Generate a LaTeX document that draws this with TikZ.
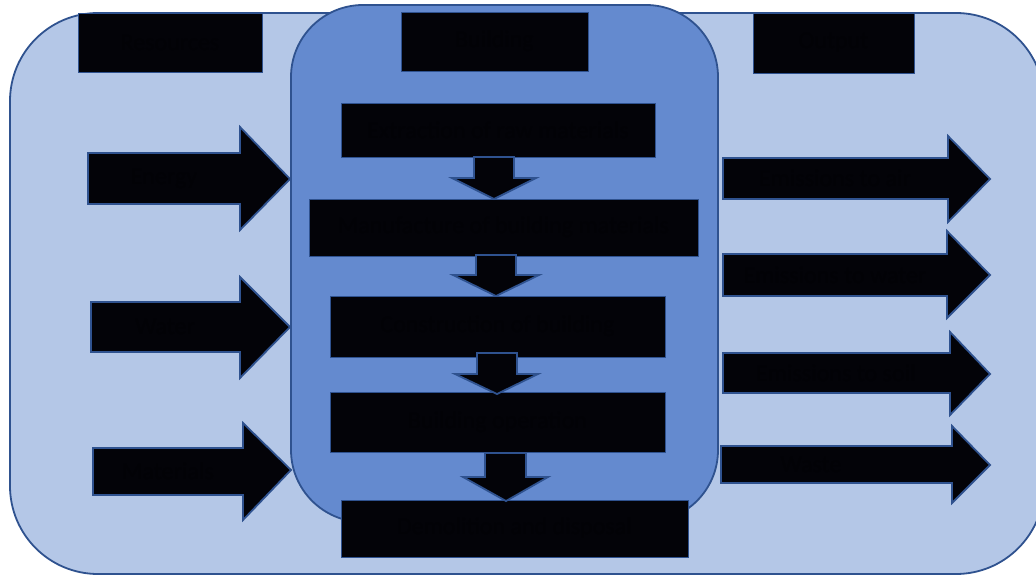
\documentclass[tikz,border=0pt]{standalone}
\usepackage{fontspec}
\setmainfont{Carlito}
\definecolor{outerfill}{RGB}{180,199,231}
\definecolor{innerfill}{RGB}{100,138,207}
\definecolor{edge}{RGB}{47,82,143}
\definecolor{boxfill}{RGB}{3,3,8}
\definecolor{boxtext}{RGB}{2,2,6}
\tikzset{
  panel/.style={draw=edge, line width=1.8pt},
  blackbox/.style={fill=boxfill, draw=edge, line width=0.8pt},
  blockarrow/.style={fill=boxfill, draw=edge, line width=1.8pt, line join=miter},
  lbl/.style={text=boxtext, inner sep=0pt, font=\fontsize{24}{28}\selectfont},
}
\begin{document}
\begin{tikzpicture}[x=1pt, y=-1pt]
\useasboundingbox (0,0) rectangle (1036,575);
% outer panel
\draw[panel, fill=outerfill, rounded corners=88pt] (10,13) rectangle (1044,574);
% inner panel
\draw[panel, fill=innerfill, rounded corners=72pt] (291,5) rectangle (718,522);

% titles
\draw[blackbox] (78,13) rectangle (262,72);
\node[lbl] (tres) at (170,42.5) {Resources};
\draw[blackbox] (401,12) rectangle (588,71);
\node[lbl] (tbld) at (494.5,41.5) {Building};
\draw[blackbox] (753,13) rectangle (914,73);
\node[lbl] (tout) at (833.5,43) {Output};

% input arrows
\draw[blockarrow] (88,153) -- (240,153) -- (240,127) -- (290,179) -- (240,230) -- (240,204) -- (88,204) -- cycle;
\node[lbl] (in1) at (164,178.5) {Energy};
\draw[blockarrow] (91,302) -- (240,302) -- (240,277) -- (290,327) -- (240,378) -- (240,352) -- (91,352) -- cycle;
\node[lbl] (in2) at (165,327) {Water};
\draw[blockarrow] (93,448) -- (243,448) -- (243,423) -- (291,470) -- (243,520) -- (243,495) -- (93,495) -- cycle;
\node[lbl] (in3) at (168,471.5) {Materials};

% process boxes
\draw[blackbox] (341,103) rectangle (655,157);
\node[lbl] (p1) at (498,130) {Extraction of raw materials};
\draw[blackbox] (309,199) rectangle (698,256);
\node[lbl] (p2) at (503.5,227.5) {Manufacture of building materials};
\draw[blackbox] (330,296) rectangle (665,357);
\node[lbl] (p3) at (497.5,326.5) {Construction of building};
\draw[blackbox] (330,392) rectangle (665,452);
\node[lbl] (p4) at (497.5,422) {Building operation};
\draw[blackbox] (341,500) rectangle (688,557);
\node[lbl] (p5) at (514.5,528.5) {Demolition and disposal};

% down arrows
\draw[blockarrow] (474,157) -- (514,157) -- (514,178) -- (536,178) -- (494,199) -- (452,178) -- (474,178) -- cycle;
\draw[blockarrow] (476,255) -- (516,255) -- (516,275) -- (539,275) -- (496,296) -- (453,275) -- (476,275) -- cycle;
\draw[blockarrow] (477,353) -- (517,353) -- (517,374) -- (538,374) -- (497,394) -- (455,374) -- (477,374) -- cycle;
\draw[blockarrow] (485,453) -- (526,453) -- (526,477) -- (548,477) -- (506,501) -- (463,477) -- (485,477) -- cycle;

% output arrows
\draw[blockarrow] (723,158) -- (948,158) -- (948,136) -- (990,179) -- (948,222) -- (948,199) -- (723,199) -- cycle;
\node[lbl] (o1) at (835,178.5) {Emissions to air};
\draw[blockarrow] (723,254) -- (947,254) -- (947,231) -- (990,275) -- (947,318) -- (947,296) -- (723,296) -- cycle;
\node[lbl] (o2) at (835,275) {Emissions to water};
\draw[blockarrow] (723,353) -- (950,353) -- (950,332) -- (990,374) -- (950,415) -- (950,393) -- (723,393) -- cycle;
\node[lbl] (o3) at (836,373) {Emissions to soil};
\draw[blockarrow] (721,446) -- (952,446) -- (952,426) -- (990,465) -- (952,503) -- (952,483) -- (721,483) -- cycle;
\node[lbl] (o4) at (811,464.5) {Waste};
\end{tikzpicture}
\end{document}
